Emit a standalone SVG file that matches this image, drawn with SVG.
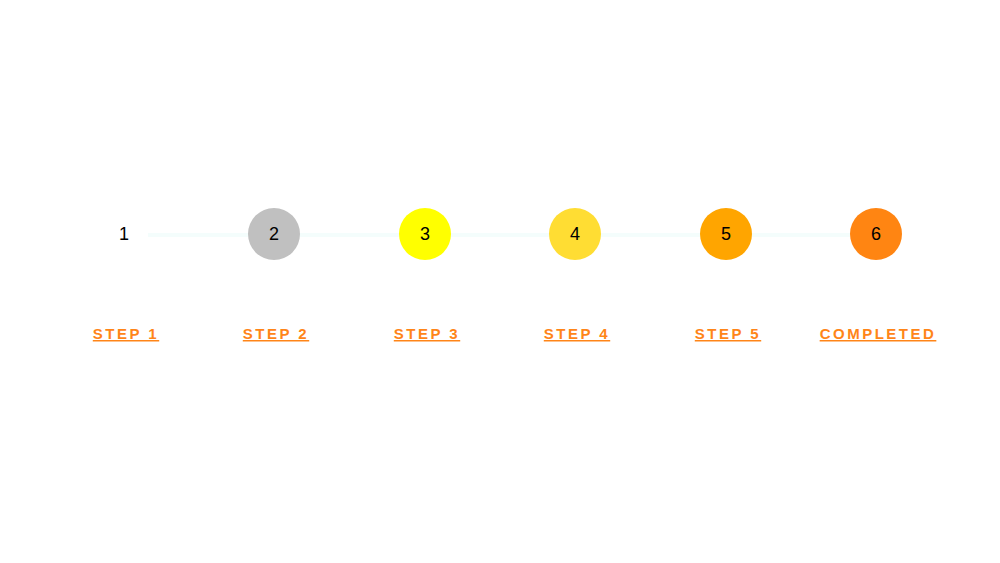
<svg xmlns="http://www.w3.org/2000/svg" width="1000" height="563" viewBox="0 0 1000 563">
<style>
.num{font-family:"Liberation Sans",Arial,sans-serif;font-size:18px;fill:#000;text-anchor:middle;dominant-baseline:central}
.lbl{font-family:"Liberation Sans",Arial,sans-serif;font-size:15px;font-weight:700;fill:#ff8518;text-anchor:middle;letter-spacing:2.5px;text-decoration:underline}
</style>
<rect width="1000" height="563" fill="#fff"/>
<g id="connectors">
<line x1="148" y1="235" x2="852" y2="235" stroke="#f4fdfc" stroke-width="4"/>
</g>
<g id="step1"><text class="num" x="124" y="234">1</text><text class="lbl" x="126" y="339">STEP 1</text></g>
<g id="step2"><circle cx="274" cy="234" r="26" fill="#c0c0c0"/><text class="num" x="274" y="234">2</text><text class="lbl" x="276" y="339">STEP 2</text></g>
<g id="step3"><circle cx="425" cy="234" r="26" fill="#ffff00"/><text class="num" x="425" y="234">3</text><text class="lbl" x="427" y="339">STEP 3</text></g>
<g id="step4"><circle cx="575" cy="234" r="26" fill="#ffdd33"/><text class="num" x="575" y="234">4</text><text class="lbl" x="577" y="339">STEP 4</text></g>
<g id="step5"><circle cx="726" cy="234" r="26" fill="#ffa500"/><text class="num" x="726" y="234">5</text><text class="lbl" x="728" y="339">STEP 5</text></g>
<g id="step6"><circle cx="876" cy="234" r="26" fill="#ff8512"/><text class="num" x="876" y="234">6</text><text class="lbl" x="878" y="339">COMPLETED</text></g>
</svg>
